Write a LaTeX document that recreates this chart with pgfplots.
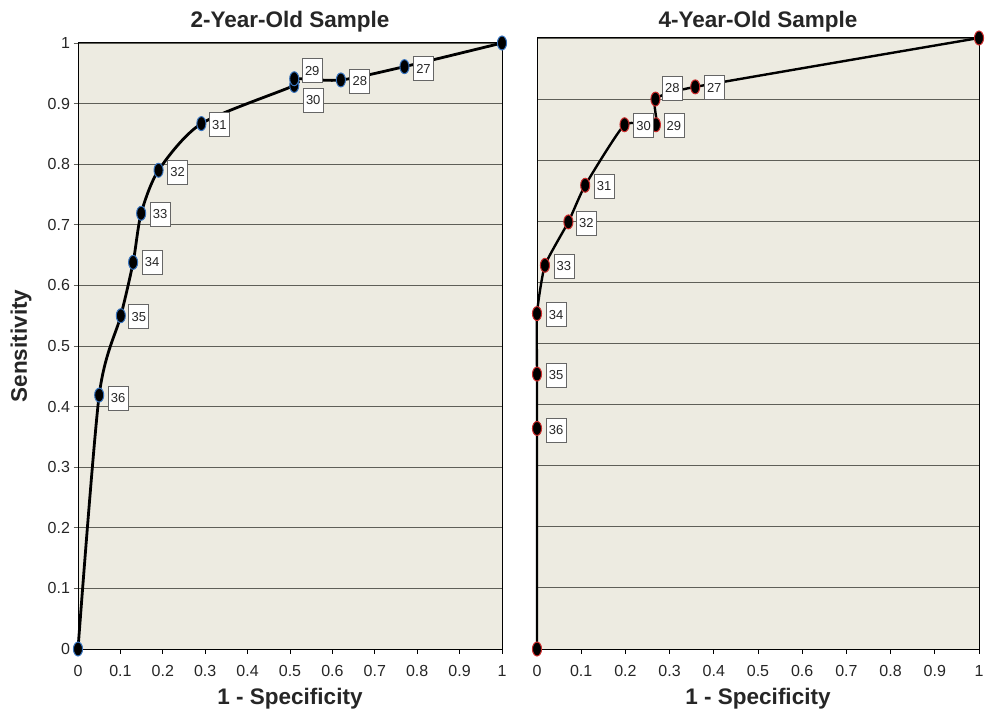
\documentclass[border=0pt]{standalone}
\usepackage{fontspec}
\setmainfont{Liberation Sans}
\usepackage{pgfplots}
\usepackage{pgfplotstable}
\pgfplotsset{compat=1.18}

\definecolor{plotbg}{RGB}{237,235,225}
\definecolor{gridc}{RGB}{95,95,88}
\definecolor{mkblue}{RGB}{55,115,190}
\definecolor{mkred}{RGB}{205,45,45}

% ROC curves
\pgfplotstableread{
x y
0 0
0.050 0.419
0.101 0.550
0.130 0.638
0.149 0.719
0.190 0.790
0.291 0.867
0.510 0.930
0.510 0.941
0.620 0.939
0.770 0.961
1 1
}\twoyr

\pgfplotstableread{
x y lab dx dy
0.050 0.419 36 19 -3
0.101 0.550 35 18 -1
0.130 0.638 34 19 0
0.149 0.719 33 19 -1
0.190 0.790 32 19 -2
0.291 0.867 31 18 -1
0.510 0.941 29 18 8
0.510 0.930 30 19 -15
0.620 0.939 28 19 -1
0.770 0.961 27 19 -2
}\twolab

\pgfplotstableread{
x y
0 0
0 0.361
0 0.450
0 0.549
0.018 0.628
0.071 0.699
0.109 0.759
0.198 0.858
0.269 0.858
0.268 0.900
0.358 0.920
1 1
}\fouryr

\pgfplotstableread{
x y lab dx dy
0 0.361 36 19 -2
0 0.450 35 19 -1
0 0.549 34 19 -1
0.018 0.628 33 19 -1
0.071 0.699 32 18 -1
0.109 0.759 31 19 -1
0.198 0.858 30 19 -1
0.269 0.858 29 18 -1
0.268 0.900 28 17 11
0.358 0.920 27 19 -1
}\fourlab

\pgfplotsset{
  rocaxis/.style={
    scale only axis,
    xmin=0, xmax=1, ymin=0, ymax=1,
    clip=false,
    axis background/.style={fill=plotbg},
    axis line style={black, line width=1pt},
    xtick={0,0.1,0.2,0.3,0.4,0.5,0.6,0.7,0.8,0.9,1},
    xticklabels={0,0.1,0.2,0.3,0.4,0.5,0.6,0.7,0.8,0.9,1},
    ytick={0,0.1,0.2,0.3,0.4,0.5,0.6,0.7,0.8,0.9,1},
    ymajorgrids,
    grid style={gridc, line width=0.9pt},
    tick align=outside,
    major tick length=4.5pt,
    xtick pos=bottom, ytick pos=left,
    xtick style={black, line width=0.9pt},
    ytick style={gridc, line width=0.9pt},
    tick label style={font=\fontsize{16}{18}\selectfont, text=black!85},
    xticklabel style={yshift=-8pt},
    /pgf/number format/assume math mode=true,
    xlabel={1 - Specificity},
    xlabel style={at={(axis description cs:0.5,0)}, anchor=center, yshift=-50pt,
      font=\fontsize{22.5}{26}\selectfont\bfseries, text=black!85},
    title style={at={(axis description cs:0.5,1)}, anchor=center,
      font=\fontsize{22.5}{26}\selectfont\bfseries, text=black!85},
  },
  curve/.style={black, line width=2.8pt, smooth, tension=0.45, mark=none},
  pts/.style={only marks, mark=*, mark size=7pt,
    mark options={xscale=0.65, fill=black, draw=#1, line width=1pt}},
  labs/.style={only marks, mark=none,
    nodes near coords, point meta=explicit symbolic,
    visualization depends on={\thisrow{dx} \as \dx},
    visualization depends on={\thisrow{dy} \as \dy},
    nodes near coords style={anchor=center, xshift=\dx pt, yshift=\dy pt,
      draw=black!60, line width=0.8pt, fill=white, text=black!85,
      minimum width=20pt, minimum height=24pt, inner sep=1pt,
      font=\fontsize{13}{15}\selectfont}},
}

\begin{document}
\begin{tikzpicture}
\path (0pt,0pt) rectangle (990pt,711pt);

\begin{axis}[rocaxis,
  at={(78pt,62pt)}, anchor=south west,
  width=424pt, height=606pt,
  title={2-Year-Old Sample},
  title style={yshift=15pt},
  ylabel={Sensitivity},
  ylabel style={at={(axis description cs:0,0.5)}, anchor=center, yshift=57pt,
    font=\fontsize{22.5}{26}\selectfont\bfseries, text=black!85},
  yticklabels={0,0.1,0.2,0.3,0.4,0.5,0.6,0.7,0.8,0.9,1},
]
\addplot[curve] table {\twoyr};
\addplot[pts=mkblue] table {\twoyr};
\addplot[labs] table[meta=lab] {\twolab};
\end{axis}

\begin{axis}[rocaxis,
  at={(537pt,62pt)}, anchor=south west,
  width=442pt, height=611pt,
  title={4-Year-Old Sample},
  title style={yshift=10pt},
  yticklabels={},
  ytick style={draw=none},
]
\addplot[curve, line width=2.4pt, tension=0.3] table {\fouryr};
\addplot[pts=mkred] table {\fouryr};
\addplot[labs] table[meta=lab] {\fourlab};
\end{axis}
\end{tikzpicture}
\end{document}
